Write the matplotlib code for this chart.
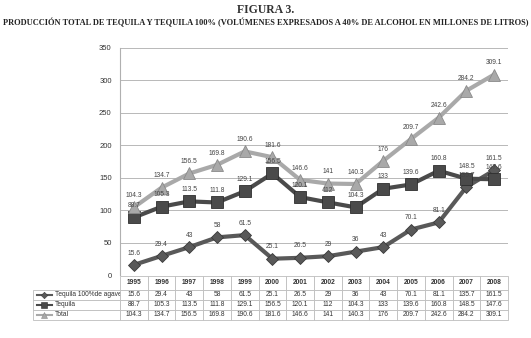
import numpy as np
import matplotlib.pyplot as plt
from matplotlib.lines import Line2D

# Datos
years = ['1995', '1996', '1997', '1998', '1999', '2000', '2001',
         '2002', '2003', '2004', '2005', '2006', '2007', '2008']
agave = [15.6, 29.4, 43, 58, 61.5, 25.1, 26.5, 29, 36, 43, 70.1, 81.1, 135.7, 161.5]
tequila = [88.7, 105.3, 113.5, 111.8, 129.1, 156.5, 120.1, 112, 104.3, 133, 139.6, 160.8, 148.5, 147.6]
total = [104.3, 134.7, 156.5, 169.8, 190.6, 181.6, 146.6, 141, 140.3, 176, 209.7, 242.6, 284.2, 309.1]

names = ['Tequila 100%de agave', 'Tequila', 'Total']
series = [agave, tequila, total]
colors = ['#595959', '#4a4a4a', '#a9a9a9']
edges = ['#3a3a3a', '#2e2e2e', '#8a8a8a']
markers = ['D', 's', '^']
msizes = [6, 8, 8]

plt.rcParams['font.family'] = ['Liberation Sans', 'DejaVu Sans']

fig = plt.figure(figsize=(5.31, 3.38), dpi=100)
W, H = 531, 338
ax = fig.add_axes([120 / W, 1 - 275 / H, 388 / W, 227 / H])

x = np.arange(len(years))
for vals, c, ec, m, ms in zip(series, colors, edges, markers, msizes):
    ax.plot(x, vals, color=c, lw=3, marker=m, markersize=ms,
            markerfacecolor=c, markeredgecolor=ec, markeredgewidth=0.6, zorder=3)
    for xi, v in zip(x, vals):
        ax.annotate(f'{v:g}', (xi, v), xytext=(0, 6), textcoords='offset points',
                    ha='center', va='bottom', fontsize=4.8, color='#444444', zorder=4)

ax.set_xlim(-0.5, len(years) - 0.5)
ax.set_ylim(0, 350)
ax.set_yticks(np.arange(0, 351, 50))
ax.tick_params(axis='y', labelsize=5.5, length=0, pad=6, colors='#333333')
ax.set_xticks([])
ax.grid(axis='y', color='#b8b8b8', lw=0.7)
ax.set_axisbelow(True)
for s in ['top', 'right', 'bottom']:
    ax.spines[s].set_visible(False)
ax.spines['left'].set_color('#b0b0b0')
ax.spines['left'].set_linewidth(0.8)

# Tabla de datos
cell_text = [[''] + years]
for name, vals in zip(names, series):
    cell_text.append([name] + [f'{v:g}' for v in vals])
first_w = 87 / 388
col_w = [first_w] + [1 / len(years)] * len(years)
top = -1 / 227
bottom = -45 / 227
tbl = ax.table(cellText=cell_text, colWidths=col_w, cellLoc='center',
               bbox=[-first_w, bottom, 1 + first_w, top - bottom])
tbl.auto_set_font_size(False)
tbl.set_fontsize(4.8)
for (r, c), cell in tbl.get_celld().items():
    cell.set_edgecolor('#bdbdbd')
    cell.set_linewidth(0.6)
    cell.get_text().set_color('#333333')
    cell.set_height(14 if r == 0 else 10)
    if r == 0:
        cell.get_text().set_fontweight('bold')
    if c == 0:
        cell._loc = 'left'
        cell.get_text().set_ha('left')
        cell.PAD = 22 / 87
tbl[0, 0].set_visible(False)

# Marcadores de leyenda en la tabla
row_px = [14, 10, 10, 10]
for i, (c, ec, m, ms) in enumerate(zip(colors, edges, markers, msizes)):
    yc = top - (14 + 10 * i + 5) / 227
    x0 = -first_w + 4 / 388
    x1 = -first_w + 19 / 388
    ax.add_line(Line2D([x0, x1], [yc, yc], transform=ax.transAxes, color=c, lw=1.5,
                       clip_on=False))
    ax.add_line(Line2D([(x0 + x1) / 2], [yc], transform=ax.transAxes, color=c,
                       marker=m, markersize=ms * 0.55, markerfacecolor=c,
                       markeredgecolor=ec, markeredgewidth=0.4, clip_on=False))

fig.text(0.5, 1 - 10 / H, 'FIGURA 3.', ha='center', va='center',
         family='Liberation Serif', fontweight='bold', fontsize=8.5, color='#333333')
fig.text(0.5, 1 - 23 / H,
         'PRODUCCIÓN TOTAL DE TEQUILA Y TEQUILA 100% (VOLÚMENES EXPRESADOS A 40% DE ALCOHOL EN MILLONES DE LITROS)',
         ha='center', va='center', family='Liberation Serif', fontweight='bold',
         fontsize=6.0, color='#222222')

fig.savefig('out.png', dpi=100)
